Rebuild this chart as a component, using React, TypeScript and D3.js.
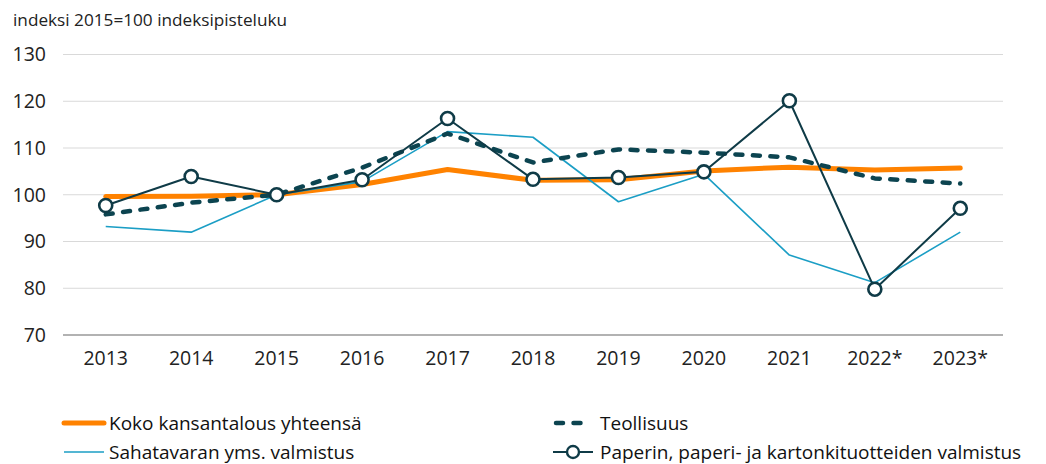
import React from "react";
import * as d3 from "d3";

const years = ["2013", "2014", "2015", "2016", "2017", "2018", "2019", "2020", "2021", "2022*", "2023*"];
const koko = [99.6, 99.7, 100, 102.2, 105.4, 103.1, 103.2, 105.1, 105.9, 105.3, 105.7];
const teollisuus = [95.8, 98.3, 100, 105.8, 113.1, 106.9, 109.7, 109.0, 108.0, 103.5, 102.4];
const sahatavara = [93.2, 92.0, 100, 102.8, 113.5, 112.3, 98.5, 104.4, 87.1, 81.2, 92.0];
const paperi = [97.7, 103.9, 100, 103.2, 116.3, 103.3, 103.7, 104.9, 120.1, 79.8, 97.1];
const yTicks = [70, 80, 90, 100, 110, 120, 130];
const legendLabels = [
  "Koko kansantalous yhteensä",
  "Teollisuus",
  "Sahatavaran yms. valmistus",
  "Paperin, paperi- ja kartonkituotteiden valmistus",
];
const title = "indeksi 2015=100 indeksipisteluku";

const W = 1046;
const H = 464;
const FONT = "'Open Sans', 'Noto Sans', sans-serif";
const ORANGE = "#ff8200";
const DARK = "#0c4450";
const DARK2 = "#0f3b47";
const LIGHT = "#1b9ec5";

export default function App() {
  const x = d3.scaleBand<string>().domain(years).range([63, 1003]);
  const y = d3.scaleLinear().domain([70, 130]).range([335, 54.5]);
  const cx = (i: number) => (x(years[i]) as number) + x.bandwidth() / 2;
  const line = d3
    .line<number>()
    .x((_, i) => cx(i))
    .y((d) => y(d));

  return (
    <svg width={W} height={H} style={{ position: "absolute", left: 0, top: 0, background: "#fff" }} fontFamily={FONT}>
      <text x={13} y={20} dy="0.35em" fontSize={17.2} fill="#222">{title}</text>
      {yTicks.map((t) => (
        <g key={t}>
          <line x1={63} x2={1003} y1={y(t)} y2={y(t)} stroke={t === 70 ? "#999" : "#d9d9d9"} strokeWidth={t === 70 ? 1.5 : 1} />
          <text x={46} y={y(t)} dy="0.35em" textAnchor="end" fontSize={19.5} fill="#222">{t}</text>
        </g>
      ))}
      {years.map((yr, i) => (
        <text key={yr} x={cx(i)} y={358} dy="0.35em" textAnchor="middle" fontSize={19.5} fill="#222">{yr}</text>
      ))}
      <path d={line(koko) as string} fill="none" stroke={ORANGE} strokeWidth={5} strokeLinejoin="round" strokeLinecap="round" />
      <path d={line(sahatavara) as string} fill="none" stroke={LIGHT} strokeWidth={1.6} strokeLinejoin="round" />
      <path d={line(teollisuus) as string} fill="none" stroke={DARK} strokeWidth={4.5} strokeDasharray="7 10.5" strokeLinecap="round" strokeLinejoin="round" />
      <path d={line(paperi) as string} fill="none" stroke={DARK2} strokeWidth={2} strokeLinejoin="round" />
      {paperi.map((v, i) => (
        <circle key={i} cx={cx(i)} cy={y(v)} r={6.5} fill="#fff" stroke={DARK2} strokeWidth={2.6} />
      ))}
      <g fontSize={19} fill="#111">
        <line x1={64} x2={104} y1={423} y2={423} stroke={ORANGE} strokeWidth={5} strokeLinecap="round" />
        <text x={109} y={423} dy="0.35em">{legendLabels[0]}</text>
        <line x1={556} x2={590} y1={423} y2={423} stroke={DARK} strokeWidth={4.5} strokeDasharray="7 10.5" strokeLinecap="round" />
        <text x={600} y={423} dy="0.35em">{legendLabels[1]}</text>
        <line x1={64} x2={104} y1={452} y2={452} stroke={LIGHT} strokeWidth={1.6} />
        <text x={109} y={452} dy="0.35em">{legendLabels[2]}</text>
        <line x1={553} x2={593} y1={452} y2={452} stroke={DARK2} strokeWidth={2} />
        <circle cx={573} cy={452} r={6} fill="#fff" stroke={DARK2} strokeWidth={2.4} />
        <text x={600} y={452} dy="0.35em">{legendLabels[3]}</text>
      </g>
    </svg>
  );
}
